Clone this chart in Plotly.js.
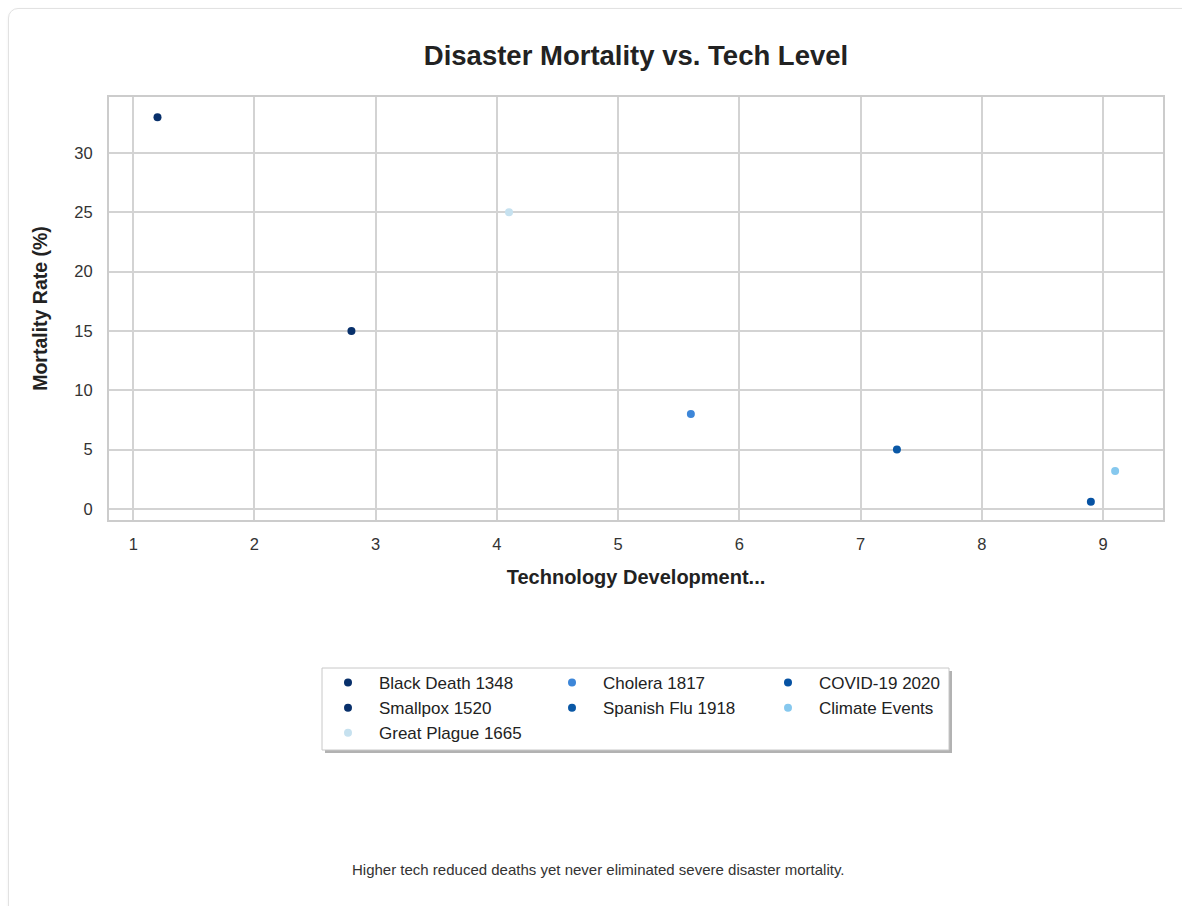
<!DOCTYPE html>
<html>
<head>
<meta charset="utf-8">
<script src="https://cdn.plot.ly/plotly-3.0.1.min.js"></script>
<style>
  html, body { margin: 0; padding: 0; background: #ffffff; overflow: hidden; }
  #card { position: absolute; left: 8px; top: 8px; width: 1190px; height: 1000px;
          border: 1px solid #e2e2e2; border-radius: 10px; background: #fff;
          box-shadow: 0 1px 3px rgba(0,0,0,0.06); }
  #chart { position: absolute; left: 0; top: 0; width: 1182px; height: 906px; }
</style>
</head>
<body>
<div id="card"></div>
<div id="chart"></div>
<script>
// Data
const events = ["Black Death 1348", "Smallpox 1520", "Great Plague 1665", "Cholera 1817", "Spanish Flu 1918", "COVID-19 2020", "Climate Events"];
const techLevel = [1.2, 2.8, 4.1, 5.6, 7.3, 8.9, 9.1];
const mortality = [33, 15, 25, 8, 5, 0.6, 3.2];
const colors = ["#08306b", "#08306b", "#c6e1ef", "#3d86d8", "#0a58a6", "#0652a3", "#86c8ee"];
const legendGroup = ["legend", "legend", "legend", "legend2", "legend2", "legend3", "legend3"];

const traces = events.map((name, i) => ({
  type: "scatter",
  mode: "markers",
  name: name,
  x: [techLevel[i]],
  y: [mortality[i]],
  marker: { color: colors[i], size: 8, line: { width: 0 } },
  legend: legendGroup[i],
  hoverinfo: "name+x+y"
}));

const font = "'Liberation Sans', Arial, Helvetica, sans-serif";
const legendBase = {
  orientation: "v", xanchor: "left", yanchor: "top",
  font: { family: font, size: 17, color: "#222" },
  bgcolor: "rgba(0,0,0,0)", borderwidth: 0, itemwidth: 52,
  tracegroupgap: 0
};
const legTop = -(665 - 520) / 423;

const layout = {
  width: 1182, height: 906,
  margin: { l: 109, r: 19, t: 97, b: 386 },
  paper_bgcolor: "rgba(0,0,0,0)",
  plot_bgcolor: "#ffffff",
  font: { family: font, color: "#333" },
  title: {
    text: "<b>Disaster Mortality vs. Tech Level</b>",
    font: { family: font, size: 27.5, color: "#222" },
    x: 0.5, xref: "paper", xanchor: "center",
    y: 1 - 55 / 906, yref: "container", yanchor: "middle"
  },
  xaxis: {
    range: [0.8, 9.495],
    tickmode: "linear", tick0: 1, dtick: 1,
    showgrid: true, gridcolor: "#d3d3d3", gridwidth: 1.5,
    zeroline: false,
    showline: true, linecolor: "#cccccc", linewidth: 2, mirror: true,
    ticks: "", ticklen: 0, ticklabelstandoff: 8,
    tickfont: { family: font, size: 16.5, color: "#333" },
    title: { text: "<b>Technology Development...</b>", font: { family: font, size: 20, color: "#222" }, standoff: 18 }
  },
  yaxis: {
    range: [-0.93, 34.7],
    tickmode: "linear", tick0: 0, dtick: 5,
    showgrid: true, gridcolor: "#d3d3d3", gridwidth: 1.5,
    zeroline: false,
    showline: true, linecolor: "#cccccc", linewidth: 2, mirror: true,
    ticks: "", ticklen: 0, ticklabelstandoff: 11,
    tickfont: { family: font, size: 16.5, color: "#333" },
    title: { text: "<b>Mortality Rate (%)</b>", font: { family: font, size: 19.5, color: "#222" }, standoff: 22 }
  },
  legend: Object.assign({}, legendBase, { x: (348 - 31 - 109) / 1054, y: legTop }),
  legend2: Object.assign({}, legendBase, { x: (572 - 31 - 109) / 1054, y: legTop }),
  legend3: Object.assign({}, legendBase, { x: (788 - 31 - 109) / 1054, y: legTop }),
  shapes: [
    { type: "rect", xref: "paper", yref: "paper",
      x0: (325 - 109) / 1054, x1: (952 - 109) / 1054,
      y0: -(671 - 520) / 423, y1: -(753 - 520) / 423,
      line: { width: 0 }, fillcolor: "rgba(0,0,0,0.3)", layer: "below" },
    { type: "rect", xref: "paper", yref: "paper",
      x0: (322 - 109) / 1054, x1: (949 - 109) / 1054,
      y0: -(668 - 520) / 423, y1: -(750 - 520) / 423,
      line: { width: 1, color: "#c8c8c8" }, fillcolor: "#ffffff", layer: "below" }
  ],
  annotations: [
    { text: "Higher tech reduced deaths yet never eliminated severe disaster mortality.",
      xref: "paper", yref: "paper", x: (598 - 109) / 1054, y: -(869 - 520) / 423,
      xanchor: "center", yanchor: "middle", showarrow: false,
      font: { family: font, size: 15, color: "#333" } }
  ],
  showlegend: true
};

Plotly.newPlot("chart", traces, layout, { displayModeBar: false, responsive: false });
</script>
</body>
</html>
